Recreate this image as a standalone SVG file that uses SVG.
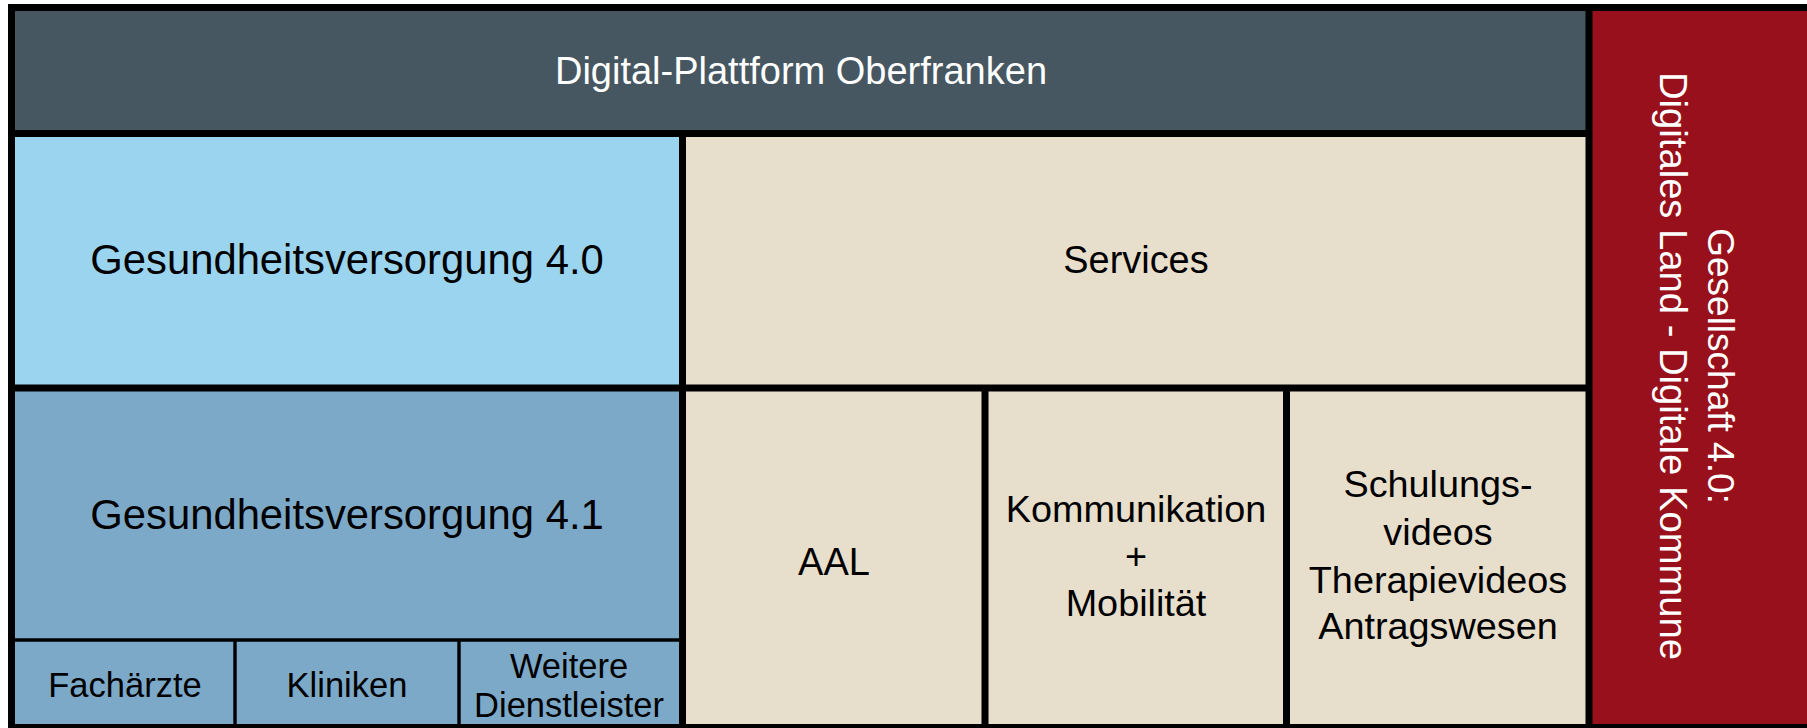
<svg xmlns="http://www.w3.org/2000/svg" width="1807" height="728" viewBox="0 0 1807 728">
<style>
text{font-family:"Liberation Sans",Arial,sans-serif;text-anchor:middle;fill:#000}
.w{fill:#fff}
.hdr{fill:#465762}
.lb{fill:#9BD4EE}
.db{fill:#7DA9C8}
.bg{fill:#E7DFCC}
.rd{fill:#97101B}
.thick{stroke:#000;stroke-width:7;fill:none}
.thin{stroke:#000;stroke-width:3.4;fill:none}
</style>
<rect x="0" y="0" width="1807" height="728" fill="#fff"/>
<g id="header">
<rect class="hdr" x="11" y="7" width="1580" height="127"/>
<text class="w" x="801" y="84" font-size="38">Digital-Plattform Oberfranken</text>
</g>
<g id="gesellschaft">
<rect class="rd" x="1589" y="7" width="225" height="725"/>
<text class="w" transform="translate(1708,366) rotate(90)" font-size="37"><tspan x="0" y="0">Gesellschaft 4.0:</tspan><tspan x="0" y="48" font-size="38.2">Digitales Land - Digitale Kommune</tspan></text>
</g>
<g id="gv40">
<rect class="lb" x="11" y="133" width="672" height="256"/>
<text x="347" y="274" font-size="41.8">Gesundheitsversorgung 4.0</text>
</g>
<g id="services">
<rect class="bg" x="682" y="133" width="908" height="256"/>
<text x="1136" y="273" font-size="37.9">Services</text>
</g>
<g id="gv41">
<rect class="db" x="11" y="388" width="672" height="252"/>
<text x="347" y="529" font-size="41.8">Gesundheitsversorgung 4.1</text>
</g>
<g id="fachaerzte">
<rect class="db" x="11" y="640" width="224" height="90"/>
<text x="125" y="697" font-size="34.5">Fachärzte</text>
</g>
<g id="kliniken">
<rect class="db" x="235" y="640" width="224" height="90"/>
<text x="347" y="697" font-size="34.5">Kliniken</text>
</g>
<g id="weitere">
<rect class="db" x="459" y="640" width="224" height="90"/>
<text x="569" y="678" font-size="34.5"><tspan x="569" y="678">Weitere</tspan><tspan x="569" y="717">Dienstleister</tspan></text>
</g>
<g id="aal">
<rect class="bg" x="682" y="388" width="303" height="342"/>
<text x="834" y="575" font-size="38">AAL</text>
</g>
<g id="kommunikation">
<rect class="bg" x="985" y="388" width="302" height="342"/>
<text x="1136" font-size="37.8"><tspan x="1136" y="522">Kommunikation</tspan><tspan x="1136" y="569">+</tspan><tspan x="1136" y="616">Mobilität</tspan></text>
</g>
<g id="schulung">
<rect class="bg" x="1286" y="388" width="304" height="342"/>
<text x="1438" font-size="37.8"><tspan x="1438" y="497">Schulungs-</tspan><tspan x="1438" y="545">videos</tspan><tspan x="1438" y="593">Therapievideos</tspan><tspan x="1438" y="639">Antragswesen</tspan></text>
</g>
<g id="connectors">
<path class="thin" d="M11.5 640H682.5M235 640V727M459 640V727"/>
<path class="thick" d="M11.5 7.5H1807M11.5 727.5H1807M11.5 4V728M1589 7.5V728M11.5 133.5H1589M11.5 388H1589M682.5 133.5V728M985 388V728M1286.5 388V728"/>
</g>
</svg>
